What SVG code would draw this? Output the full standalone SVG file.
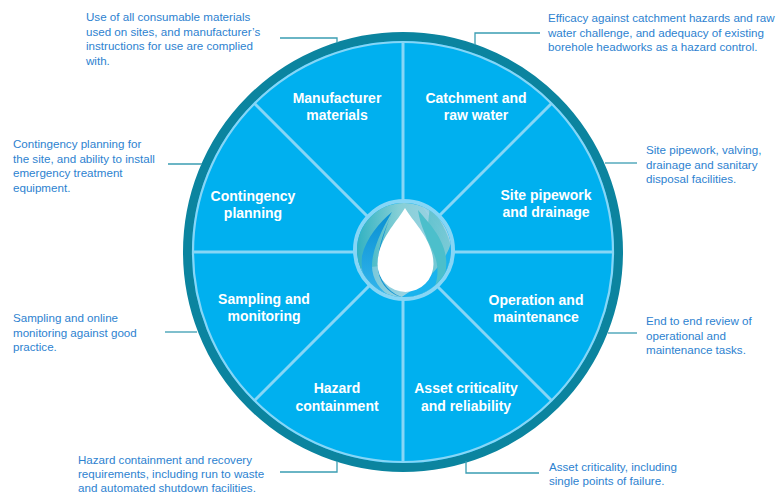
<svg xmlns="http://www.w3.org/2000/svg" width="779" height="493" viewBox="0 0 779 493">
<style>
.lbl{font-family:"Liberation Sans",Arial,sans-serif;font-size:14px;font-weight:bold;fill:#ffffff;text-anchor:middle}
.desc{font-family:"Liberation Sans",Arial,sans-serif;font-size:11.6px;fill:#2d82d0}
.conn{fill:none;stroke:#3a9db2;stroke-width:1.3}
.div{stroke:#86d6f6;stroke-width:3}
</style>
<defs>
<clipPath id="medclip"><circle cx="404" cy="250" r="47"/></clipPath>
<linearGradient id="medbg" x1="0" y1="0" x2="1" y2="0">
<stop offset="0" stop-color="#2fb1c1"/>
<stop offset="0.45" stop-color="#86cfd6"/>
<stop offset="1" stop-color="#a3d3ea"/>
</linearGradient>
<linearGradient id="flameB" x1="0" y1="0" x2="0" y2="1">
<stop offset="0" stop-color="#0a8fd2"/>
<stop offset="1" stop-color="#35b8ee"/>
</linearGradient>
<linearGradient id="flameT" x1="0" y1="0" x2="1" y2="1">
<stop offset="0" stop-color="#4fbcc8"/>
<stop offset="1" stop-color="#7fcdd6"/>
</linearGradient>
</defs>
<rect width="779" height="493" fill="#ffffff"/>

<g id="wheel">
<circle cx="403" cy="252" r="215.5" fill="#00b0ef" stroke="#0b849f" stroke-width="9"/>
<circle cx="403" cy="252" r="210" fill="none" stroke="#86d6f6" stroke-width="2.2"/>
<g id="dividers">
<line class="div" x1="403" y1="42" x2="403" y2="462"/>
<line class="div" x1="193" y1="252" x2="613" y2="252"/>
<line class="div" x1="254.5" y1="103.5" x2="551.5" y2="400.5"/>
<line class="div" x1="551.5" y1="103.5" x2="254.5" y2="400.5"/>
</g>
</g>

<g id="medallion">
<circle cx="404" cy="250" r="49" fill="#00b0ef" stroke="#86d6f6" stroke-width="4"/>
<g clip-path="url(#medclip)">
<rect x="356" y="202" width="96" height="96" fill="url(#medbg)"/>
<path d="M420 202 C430 222 452 238 452 262 L452 300 L356 300 L356 270 C380 262 440 270 452 242 Z" fill="#a6d5ec" opacity="0.5"/>
<path d="M430 205 C442 222 452 240 452 256 L452 300 L420 300 Z" fill="url(#flameT)" opacity="0.8"/>
<path d="M452 240 C446 262 430 280 400 298 L452 298 Z" fill="#19b3ee"/>
<path d="M392 212 C384 226 372 248 372 266 C372 282 384 296 400 300 L380 300 C366 290 360 274 362 256 C366 238 380 222 392 212 Z" fill="url(#flameB)"/>
<path d="M392 212 C386 228 378 250 378 266 C378 282 388 294 404 298 C386 292 376 276 378 258 C380 238 388 224 392 212 Z" fill="#0d93d4"/>
<path d="M418 210 C428 222 444 238 446 258 C448 276 440 290 430 296 C438 284 440 268 434 254 C428 240 420 226 418 210 Z" fill="#4cbfcb"/>
</g>
<path d="M405 208 C413 222 433.5 240 433.5 264 A28 28 0 0 1 377.5 264 C377.5 240 397 222 405 208 Z" fill="#ffffff"/>
</g>

<g id="n-manufacturer">
<text class="lbl" x="337" y="103">Manufacturer</text>
<text class="lbl" x="337" y="120">materials</text>
<text class="desc" x="86" y="21">Use of all consumable materials</text>
<text class="desc" x="86" y="35.5">used on sites, and manufacturer’s</text>
<text class="desc" x="86" y="50">instructions for use are complied</text>
<text class="desc" x="86" y="64.5">with.</text>
</g>
<g id="n-catchment">
<text class="lbl" x="476" y="103">Catchment and</text>
<text class="lbl" x="476" y="120">raw water</text>
<text class="desc" x="548" y="22">Efficacy against catchment hazards and raw</text>
<text class="desc" x="548" y="36.5">water challenge, and adequacy of existing</text>
<text class="desc" x="548" y="51">borehole headworks as a hazard control.</text>
</g>
<g id="n-contingency">
<text class="lbl" x="253" y="201">Contingency</text>
<text class="lbl" x="253" y="218">planning</text>
<text class="desc" x="13" y="148">Contingency planning for</text>
<text class="desc" x="13" y="162.5">the site, and ability to install</text>
<text class="desc" x="13" y="177">emergency treatment</text>
<text class="desc" x="13" y="191.5">equipment.</text>
</g>
<g id="n-sitepipework">
<text class="lbl" x="546" y="200">Site pipework</text>
<text class="lbl" x="546" y="217">and drainage</text>
<text class="desc" x="646" y="154">Site pipework, valving,</text>
<text class="desc" x="646" y="168.5">drainage and sanitary</text>
<text class="desc" x="646" y="183">disposal facilities.</text>
</g>
<g id="n-sampling">
<text class="lbl" x="264" y="304">Sampling and</text>
<text class="lbl" x="264" y="321">monitoring</text>
<text class="desc" x="13" y="322">Sampling and online</text>
<text class="desc" x="13" y="336.5">monitoring against good</text>
<text class="desc" x="13" y="351">practice.</text>
</g>
<g id="n-operation">
<text class="lbl" x="536" y="305">Operation and</text>
<text class="lbl" x="536" y="322">maintenance</text>
<text class="desc" x="646" y="325">End to end review of</text>
<text class="desc" x="646" y="339.5">operational and</text>
<text class="desc" x="646" y="354">maintenance tasks.</text>
</g>
<g id="n-hazard">
<text class="lbl" x="337" y="393">Hazard</text>
<text class="lbl" x="337" y="411">containment</text>
<text class="desc" x="78" y="464">Hazard containment and recovery</text>
<text class="desc" x="78" y="478">requirements, including run to waste</text>
<text class="desc" x="78" y="492">and automated shutdown facilities.</text>
</g>
<g id="n-asset">
<text class="lbl" x="466" y="393">Asset criticality</text>
<text class="lbl" x="466" y="411">and reliability</text>
<text class="desc" x="549" y="471">Asset criticality, including</text>
<text class="desc" x="549" y="485">single points of failure.</text>
</g>

<g id="connectors">
<polyline class="conn" points="280,38 337,38 337,43"/>
<polyline class="conn" points="540,33 475,33 475,45"/>
<line class="conn" x1="168" y1="164" x2="202" y2="164"/>
<line class="conn" x1="605" y1="163" x2="637" y2="163"/>
<line class="conn" x1="165" y1="332" x2="197" y2="332"/>
<line class="conn" x1="608" y1="333" x2="637" y2="333"/>
<polyline class="conn" points="280,472 337,472 337,461"/>
<polyline class="conn" points="466,461 466,473 539,473"/>
</g>
</svg>
